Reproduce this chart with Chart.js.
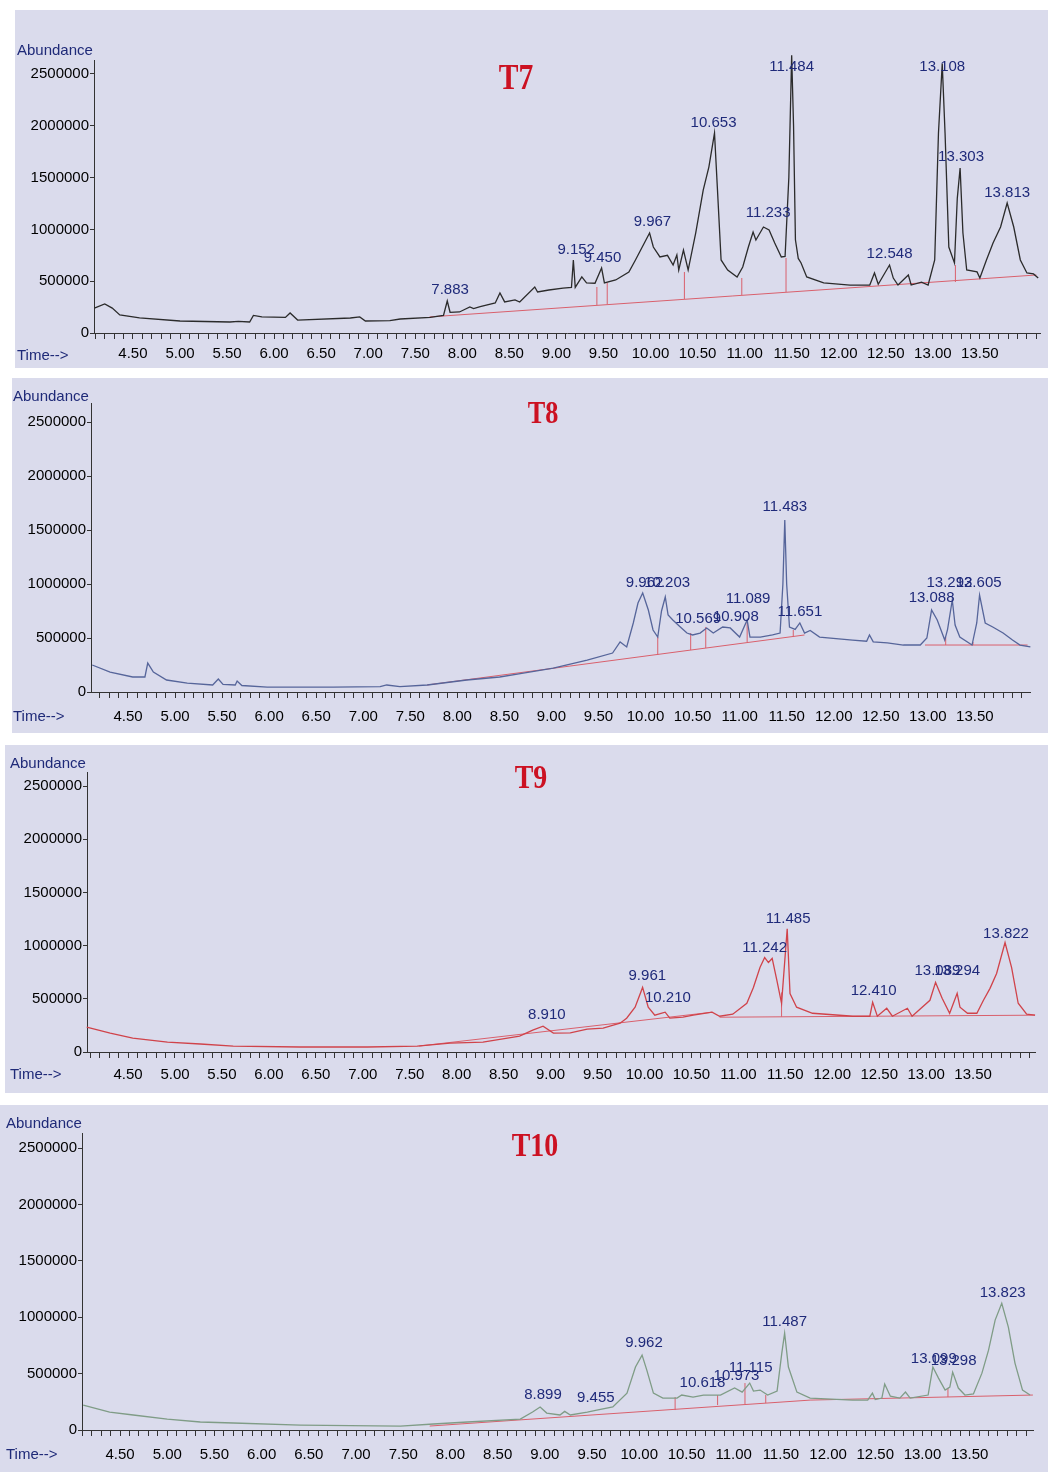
<!DOCTYPE html>
<html>
<head>
<meta charset="utf-8">
<script src="https://cdn.jsdelivr.net/npm/chart.js@4.4.0/dist/chart.umd.min.js"></script>
<style>
body{margin:0;background:#fff;width:1048px;height:1472px;position:relative;overflow:hidden;font-family:"Liberation Sans",Arial,sans-serif}
.panel{position:absolute;background:#dadbec}
.box{position:absolute;left:0;width:1048px}
.ttl{position:absolute;font-weight:bold;font-family:"Liberation Serif","Times New Roman",serif;color:#cc1122;transform:translate(-50%,-50%) scaleX(0.82)}
.cap{position:absolute;font-size:15px;color:#1f2a78;transform:translateY(-50%);white-space:nowrap}
</style>
</head>
<body>
<div id="root"></div>
<script>
// tick labels
const timeLabels = ['4.50','5.00','5.50','6.00','6.50','7.00','7.50','8.00','8.50','9.00','9.50','10.00','10.50','11.00','11.50','12.00','12.50','13.00','13.50'];
const abundanceTicks = [0, 500000, 1000000, 1500000, 2000000, 2500000];

// ---- T7 ----
const t7Time = [4.09,4.20,4.28,4.36,4.57,5.00,5.53,5.62,5.74,5.78,5.87,6.12,6.17,6.25,6.81,6.91,6.97,7.23,7.34,7.66,7.80,7.84,7.87,7.97,8.08,8.12,8.19,8.35,8.40,8.45,8.56,8.61,8.77,8.80,8.92,9.07,9.16,9.18,9.20,9.27,9.32,9.41,9.48,9.51,9.63,9.77,9.84,9.99,10.03,10.10,10.18,10.24,10.28,10.30,10.35,10.40,10.48,10.56,10.62,10.68,10.71,10.75,10.82,10.92,10.98,11.04,11.09,11.12,11.20,11.26,11.32,11.39,11.43,11.47,11.50,11.52,11.54,11.57,11.60,11.66,11.84,12.12,12.33,12.38,12.42,12.54,12.58,12.63,12.74,12.77,12.88,12.95,13.02,13.06,13.10,13.13,13.17,13.23,13.26,13.29,13.32,13.36,13.47,13.50,13.57,13.64,13.72,13.79,13.86,13.93,14.00,14.07,14.12];
const t7Abund = [241000,280000,240000,174000,145000,116000,106000,112000,106000,170000,155000,150000,193000,125000,145000,155000,116000,120000,135000,150000,170000,309000,200000,203000,251000,235000,255000,290000,386000,300000,320000,299000,444000,396000,415000,434000,440000,705000,440000,541000,483000,480000,627000,483000,512000,589000,705000,965000,830000,734000,750000,656000,753000,608000,801000,608000,965000,1380000,1602000,1930000,1409000,705000,608000,541000,637000,830000,975000,898000,1023000,994000,869000,734000,740000,1500000,2680000,2000000,900000,720000,676000,541000,483000,463000,463000,579000,470000,656000,530000,463000,560000,463000,490000,463000,705000,1930000,2600000,1930000,830000,676000,1300000,1592000,965000,608000,590000,531000,705000,869000,1023000,1255000,1023000,705000,579000,570000,531000];
const t7BaseTime = [7.65, 14.10];
const t7BaseAbund = [155000, 560000];
const t7DropTime = [9.43, 9.54, 10.36, 10.97, 11.44, 13.24];
const t7DropLow = [270000, 277000, 328000, 367000, 396000, 492000];
const t7DropHigh = [444000, 483000, 589000, 531000, 724000, 656000];
const t7PeakNames = ['7.883','9.152','9.450','9.967','10.653','11.233','11.484','12.548','13.108','13.303','13.813'];
const t7PeakTime = [7.87, 9.21, 9.49, 10.02, 10.67, 11.25, 11.50, 12.54, 13.10, 13.30, 13.79];
const t7PeakAbund = [415000, 801000, 724000, 1071000, 2027000, 1158000, 2568000, 763000, 2568000, 1699000, 1351000];

// ---- T8 ----
const t8Time = [4.12,4.31,4.55,4.68,4.71,4.77,4.91,5.13,5.40,5.46,5.51,5.64,5.66,5.71,5.98,6.68,7.18,7.25,7.39,7.68,8.10,8.45,8.67,9.02,9.38,9.65,9.73,9.80,9.87,9.92,9.97,10.03,10.08,10.13,10.17,10.21,10.24,10.29,10.37,10.44,10.50,10.58,10.65,10.72,10.82,10.90,11.00,11.08,11.11,11.22,11.35,11.43,11.46,11.48,11.50,11.53,11.59,11.64,11.69,11.75,11.85,12.20,12.35,12.38,12.42,12.57,12.74,12.92,12.99,13.04,13.10,13.18,13.21,13.26,13.29,13.34,13.47,13.52,13.55,13.61,13.69,13.80,13.90,13.98,14.09];
const t8Abund = [250000,185000,139000,139000,268000,185000,111000,83000,65000,120000,70000,65000,102000,60000,46000,46000,50000,65000,50000,65000,111000,139000,170000,222000,296000,361000,463000,417000,639000,824000,917000,759000,574000,509000,750000,880000,713000,667000,602000,546000,528000,546000,593000,546000,602000,593000,509000,667000,509000,509000,528000,546000,1000000,1593000,1000000,602000,580000,639000,546000,570000,509000,481000,470000,528000,465000,454000,435000,435000,500000,759000,667000,481000,580000,852000,620000,509000,435000,639000,898000,639000,602000,546000,481000,435000,417000];
const t8BaseTime = [7.68, 11.69, 11.69, 12.97, 14.06];
const t8BaseAbund = [65000, 528000, null, 435000, 435000];
const t8DropTime = [10.13, 10.48, 10.64, 11.08, 11.57, 13.19, 13.48];
const t8DropLow = [343000, 389000, 407000, 463000, 509000, 435000, 435000];
const t8DropHigh = [509000, 546000, 602000, 648000, 574000, 509000, 463000];
const t8PeakNames = ['9.962','10.203','10.569','10.908','11.089','11.483','11.651','13.088','13.292','13.605'];
const t8PeakTime = [9.99, 10.23, 10.56, 10.96, 11.09, 11.48, 11.64, 13.04, 13.23, 13.54];
const t8PeakAbund = [1009000, 1009000, 676000, 694000, 861000, 1713000, 741000, 870000, 1009000, 1009000];

// ---- T9 ----
const t9Time = [4.06,4.31,4.55,4.92,5.27,5.62,6.33,7.05,7.58,7.93,8.28,8.67,8.81,8.92,9.03,9.21,9.39,9.56,9.74,9.81,9.90,9.98,10.04,10.11,10.22,10.27,10.41,10.52,10.72,10.80,10.94,11.09,11.16,11.23,11.28,11.32,11.36,11.41,11.46,11.52,11.55,11.62,11.79,12.22,12.40,12.43,12.48,12.58,12.64,12.80,12.85,13.04,13.10,13.17,13.25,13.33,13.36,13.44,13.54,13.61,13.68,13.75,13.84,13.91,13.98,14.07,14.16];
const t9Abund = [234000,178000,131000,93000,75000,56000,47000,47000,56000,84000,93000,150000,206000,243000,178000,180000,215000,224000,271000,318000,421000,607000,421000,346000,374000,318000,327000,346000,374000,336000,355000,458000,607000,794000,888000,841000,879000,673000,458000,1159000,550000,421000,364000,336000,336000,467000,336000,411000,336000,411000,336000,486000,654000,505000,364000,551000,421000,364000,364000,486000,598000,738000,1028000,794000,458000,355000,346000];
const t9BaseTime = [7.60, 10.72, 10.72, 10.80, 14.16];
const t9BaseAbund = [56000, 374000, null, 327000, 346000];
const t9DropTime = [11.46];
const t9DropLow = [331000];
const t9DropHigh = [560000];
const t9PeakNames = ['8.910','9.961','10.210','11.242','11.485','12.410','13.089','13.294','13.822'];
const t9PeakTime = [8.96, 10.03, 10.25, 11.28, 11.53, 12.44, 13.12, 13.33, 13.85];
const t9PeakAbund = [346000, 720000, 505000, 981000, 1252000, 579000, 766000, 766000, 1112000];

// ---- T10 ----
const t10Time = [4.11,4.39,4.64,5.00,5.35,5.70,6.41,7.47,7.82,8.18,8.74,8.87,8.95,9.02,9.16,9.21,9.27,9.45,9.55,9.72,9.87,9.96,10.03,10.08,10.15,10.25,10.40,10.45,10.57,10.68,10.86,11.01,11.09,11.17,11.21,11.28,11.36,11.46,11.51,11.54,11.58,11.67,11.81,12.26,12.42,12.47,12.50,12.57,12.60,12.66,12.76,12.82,12.87,13.06,13.11,13.17,13.24,13.29,13.32,13.38,13.45,13.54,13.63,13.70,13.77,13.84,13.91,13.98,14.06,14.14];
const t10Abund = [221000,159000,133000,97000,71000,62000,44000,35000,53000,71000,97000,159000,204000,150000,133000,165000,133000,159000,177000,204000,327000,558000,664000,531000,327000,283000,283000,310000,292000,310000,310000,372000,336000,416000,345000,354000,310000,345000,681000,858000,558000,336000,283000,265000,265000,327000,270000,283000,407000,300000,283000,336000,283000,310000,558000,460000,354000,380000,513000,372000,310000,320000,504000,708000,974000,1124000,912000,593000,354000,310000];
const t10BaseTime = [7.78, 11.81, 14.17];
const t10BaseAbund = [35000, 265000, 310000];
const t10DropTime = [10.38, 10.83, 11.12, 11.34, 13.27];
const t10DropLow = [177000, 221000, 230000, 239000, 292000];
const t10DropHigh = [292000, 310000, 416000, 310000, 372000];
const t10PeakNames = ['8.899','9.455','9.962','10.618','10.973','11.115','11.487','13.099','13.298','13.823'];
const t10PeakTime = [8.98, 9.54, 10.05, 10.67, 11.03, 11.18, 11.54, 13.12, 13.33, 13.85];
const t10PeakAbund = [310000, 283000, 770000, 416000, 478000, 549000, 956000, 628000, 611000, 1212000];

// panel geometry and look
const panels = [
  {name:'T7', bg:[15,10,1033,358], top:10, h:358, area:[94,1040,60,333], xmin:4.086, xmax:14.139, ymax:2635135,
   line:'#2b2b2b', title:[516,77,36], abund:[17,49], time:[17,354], xpad:6,
   t:t7Time, a:t7Abund, bt:t7BaseTime, ba:t7BaseAbund, dt:t7DropTime, dl:t7DropLow, dh:t7DropHigh, pn:t7PeakNames, pt:t7PeakTime, pa:t7PeakAbund},
  {name:'T8', bg:[12,378,1036,355], top:378, h:355, area:[91,1030,403,692], xmin:4.107, xmax:14.086, ymax:2675926,
   line:'#56659a', title:[543,412,32], abund:[13,395], time:[13,715], xpad:10,
   t:t8Time, a:t8Abund, bt:t8BaseTime, ba:t8BaseAbund, dt:t8DropTime, dl:t8DropLow, dh:t8DropHigh, pn:t8PeakNames, pt:t8PeakTime, pa:t8PeakAbund},
  {name:'T9', bg:[5,745,1043,348], top:745, h:348, area:[87,1035,772,1052], xmin:4.063, xmax:14.159, ymax:2631579,
   line:'#d0434a', title:[531,777,34], abund:[10,762], time:[10,1073], xpad:8,
   t:t9Time, a:t9Abund, bt:t9BaseTime, ba:t9BaseAbund, dt:t9DropTime, dl:t9DropLow, dh:t9DropHigh, pn:t9PeakNames, pt:t9PeakTime, pa:t9PeakAbund},
  {name:'T10', bg:[0,1105,1048,367], top:1105, h:367, area:[82,1033,1133,1430], xmin:4.097, xmax:14.171, ymax:2632979,
   line:'#7f9c86', title:[535,1145,34], abund:[6,1122], time:[6,1453], xpad:10,
   t:t10Time, a:t10Abund, bt:t10BaseTime, ba:t10BaseAbund, dt:t10DropTime, dl:t10DropLow, dh:t10DropHigh, pn:t10PeakNames, pt:t10PeakTime, pa:t10PeakAbund}
];

Chart.defaults.font.family = '"Liberation Sans", Arial, sans-serif';

// peak retention time labels, placed through the chart scales
const peakLabels = {
  id: 'peakLabels',
  afterDatasetsDraw(chart, args, opts) {
    const ctx = chart.ctx, x = chart.scales.x, y = chart.scales.y;
    ctx.save();
    ctx.font = '15px "Liberation Sans", Arial';
    ctx.fillStyle = '#1f2a7a';
    ctx.textAlign = 'center';
    ctx.textBaseline = 'middle';
    opts.names.forEach((n, i) => ctx.fillText(n, x.getPixelForValue(opts.times[i]), y.getPixelForValue(opts.values[i])));
    ctx.restore();
  }
};

const root = document.getElementById('root');

function addDiv(cls, text, css) {
  const d = document.createElement('div');
  d.className = cls;
  if (text) d.textContent = text;
  Object.assign(d.style, css);
  root.appendChild(d);
  return d;
}

function drawPanel(p) {
  addDiv('panel', '', {left:p.bg[0]+'px', top:p.bg[1]+'px', width:p.bg[2]+'px', height:p.bg[3]+'px'});
  const box = addDiv('box', '', {top:p.top+'px', height:p.h+'px'});
  const cv = document.createElement('canvas');
  cv.width = 1048; cv.height = p.h;
  box.appendChild(cv);

  const trace = p.t.map((t, i) => ({x:t, y:p.a[i]}));
  const base = p.bt.map((t, i) => ({x:t, y:p.ba[i]}));
  const drops = [];
  p.dt.forEach((t, i) => { drops.push({x:t, y:p.dl[i]}, {x:t, y:p.dh[i]}, {x:t, y:null}); });

  const xTicks = [];
  for (let i = 40; i <= 142; i++) {
    const v = i / 10;
    if (v >= p.xmin && v <= p.xmax) xTicks.push({value:v});
  }
  const [aL, aR, aT, aB] = p.area;

  new Chart(cv.getContext('2d'), {
    type: 'line',
    data: {datasets: [
      {data: trace, borderColor: p.line, borderWidth: 1.3, pointRadius: 0, tension: 0, clip: false},
      {data: base, borderColor: '#d9606c', borderWidth: 1, pointRadius: 0, spanGaps: false},
      {data: drops, borderColor: '#d9606c', borderWidth: 1, pointRadius: 0, spanGaps: false}
    ]},
    options: {
      responsive: false, animation: false, events: [],
      layout: {padding: {left: 0, right: 1048 - aR, top: aT - p.top, bottom: 0}},
      plugins: {legend: {display: false}, tooltip: {enabled: false},
        peakLabels: {names: p.pn, times: p.pt, values: p.pa}},
      scales: {
        x: {type: 'linear', min: p.xmin, max: p.xmax,
          afterBuildTicks: s => { s.ticks = xTicks.slice(); },
          afterFit: s => { s.height = p.top + p.h - aB; },
          ticks: {autoSkip: false, maxRotation: 0, padding: p.xpad, color: '#000', font: {size: 15},
            callback: v => { const s = v.toFixed(2); return timeLabels.includes(s) ? s : ''; }},
          grid: {drawOnChartArea: false, tickLength: 6, color: '#333'},
          border: {color: '#333', width: 1}},
        y: {type: 'linear', min: 0, max: p.ymax,
          afterBuildTicks: s => { s.ticks = abundanceTicks.map(v => ({value: v})); },
          afterFit: s => { s.width = aL; },
          ticks: {padding: 1, color: '#000', font: {size: 15}, callback: v => String(v)},
          grid: {drawOnChartArea: false, tickLength: 4, color: '#333'},
          border: {color: '#333', width: 1}}
      }
    },
    plugins: [peakLabels]
  });

  addDiv('ttl', p.name, {left:p.title[0]+'px', top:p.title[1]+'px', fontSize:p.title[2]+'px'});
  addDiv('cap', 'Abundance', {left:p.abund[0]+'px', top:p.abund[1]+'px'});
  addDiv('cap', 'Time-->', {left:p.time[0]+'px', top:p.time[1]+'px'});
}

panels.forEach(drawPanel);
</script>
</body>
</html>
